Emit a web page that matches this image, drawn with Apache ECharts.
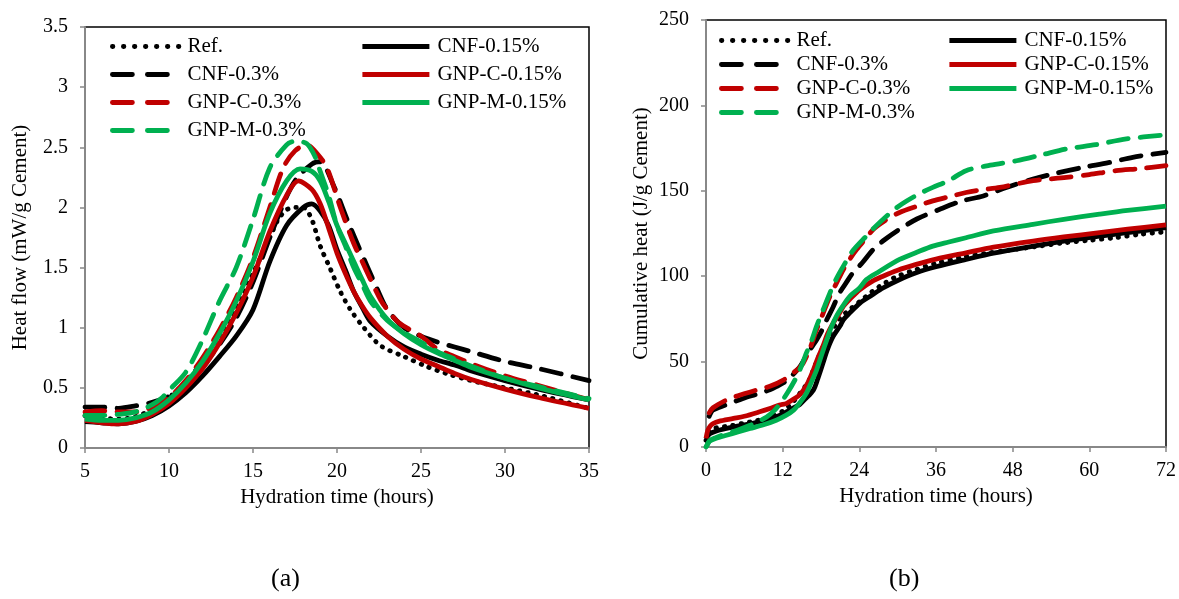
<!DOCTYPE html>
<html>
<head>
<meta charset="utf-8">
<script src="https://cdn.jsdelivr.net/npm/echarts@6/dist/echarts.min.js"></script>
<style>
html,body{margin:0;padding:0;background:#fff;}
#c{width:1179px;height:599px;}
</style>
</head>
<body>
<div id="c"></div>
<script>
// ---------- (a) Heat flow (mW/g Cement) vs hydration time (hours) ----------
const hfRef = [[5,0.27],[6,0.25],[7,0.24],[8,0.26],[9,0.32],[10,0.42],[11,0.55],[12,0.72],[13,0.93],[14,1.16],[15,1.45],[16,1.75],[16.5,1.9],[17,1.98],[17.5,2.0],[18,2.0],[18.5,1.9],[19,1.68],[19.6,1.49],[20.2,1.3],[20.8,1.15],[21.6,1.0],[22.6,0.85],[24,0.76],[25.3,0.68],[26.5,0.62],[28,0.56],[30,0.5],[32,0.44],[35,0.33]];
const hfCNF015 = [[5,0.22],[6,0.21],[7,0.2],[8,0.22],[9,0.27],[10,0.35],[11,0.46],[12,0.6],[13,0.76],[14,0.93],[15,1.15],[16,1.55],[17,1.85],[18,2.0],[18.5,2.03],[19,1.97],[19.5,1.85],[20,1.65],[20.5,1.48],[21,1.3],[21.5,1.17],[22,1.05],[23,0.93],[24,0.84],[25,0.78],[26,0.73],[27,0.69],[28,0.64],[30,0.56],[32,0.49],[35,0.4]];
const hfCNF03 = [[5,0.34],[6,0.34],[7,0.33],[8,0.35],[9,0.38],[10,0.43],[11,0.53],[12,0.68],[13,0.86],[14,1.08],[15,1.38],[16,1.75],[17,2.09],[17.6,2.24],[18.5,2.36],[19,2.38],[19.8,2.18],[20.6,1.9],[21.2,1.7],[21.8,1.51],[22.4,1.32],[23,1.15],[24,1.0],[25,0.93],[26,0.88],[27,0.84],[28,0.8],[30,0.72],[32,0.66],[35,0.56]];
const hfGNPC015 = [[5,0.23],[6,0.21],[7,0.2],[8,0.22],[9,0.28],[10,0.37],[11,0.5],[12,0.66],[13,0.87],[14,1.12],[15,1.42],[16,1.8],[17,2.1],[17.7,2.22],[18.5,2.15],[19,2.03],[19.5,1.83],[20,1.62],[20.5,1.45],[21,1.3],[21.5,1.18],[22,1.08],[23,0.93],[24,0.82],[25,0.74],[26,0.68],[27,0.62],[28,0.57],[30,0.49],[32,0.42],[35,0.33]];
const hfGNPC03 = [[5,0.3],[6,0.31],[7,0.3],[8,0.3],[9,0.34],[10,0.42],[11,0.56],[12,0.75],[13,0.98],[14,1.25],[15,1.58],[16,2.0],[16.8,2.33],[17.5,2.47],[18.2,2.52],[18.8,2.45],[19.4,2.33],[20.2,2.0],[21,1.7],[21.5,1.55],[22,1.4],[22.6,1.23],[23,1.15],[23.7,1.04],[25,0.93],[26,0.82],[27,0.76],[28,0.7],[30,0.6],[32,0.52],[35,0.4]];
const hfGNPM015 = [[5,0.24],[6,0.23],[7,0.23],[8,0.25],[9,0.3],[10,0.4],[11,0.54],[12,0.72],[13,0.95],[14,1.22],[15,1.55],[16,1.95],[17,2.22],[17.8,2.32],[18.5,2.3],[19,2.22],[19.5,2.05],[20,1.85],[20.5,1.7],[21,1.55],[21.5,1.4],[22,1.26],[23,1.07],[24,0.95],[25,0.86],[26,0.79],[27,0.73],[28,0.67],[30,0.58],[32,0.5],[35,0.4]];
const hfGNPM03 = [[5,0.27],[6,0.27],[7,0.28],[8,0.3],[9,0.36],[9.6,0.42],[10,0.48],[11,0.63],[12,0.9],[13,1.22],[14,1.5],[15,1.9],[16,2.33],[17,2.52],[17.5,2.55],[18.2,2.53],[18.7,2.42],[19,2.3],[19.5,2.1],[20,1.85],[20.5,1.68],[21,1.5],[21.5,1.36],[22,1.22],[23,1.06],[24,0.96],[25,0.88],[26,0.8],[27,0.74],[28,0.68],[30,0.58],[32,0.51],[35,0.41]];

// ---------- (b) Cumulative heat (J/g Cement) vs hydration time (hours) ----------
const chRef = [[0,4],[0.5,9],[1,10.5],[2,11.5],[4,12.5],[6,14],[8,15.5],[10,17.5],[12,21],[13,24],[14,28],[15,33],[16,38],[17,47],[18,56],[19,64],[20,70],[21,75.5],[22,79],[24,85],[26,91],[28,96],[30,100],[33,104],[36,107.5],[40,111],[44,113.5],[48,115.5],[52,117.5],[56,119.5],[60,121],[64,122.5],[68,124.5],[72,126]];
const chCNF015 = [[0,5],[0.5,7.5],[1,8.5],[2,9.8],[4,11.5],[6,13],[8,14.5],[10,16.5],[11.6,18.6],[13,21.5],[14,23.5],[14.7,25],[15.5,28],[16.8,33.3],[17.5,40],[18.3,49],[19,57],[19.9,64.7],[21,71],[21.5,74.5],[22.5,78.5],[24.1,84.3],[26,89],[27.7,93.1],[30,97.5],[32.9,102],[36,105.5],[40.7,109.8],[45,113.5],[51.2,117.6],[56,120.5],[61.6,123.5],[66,125.5],[72,128.4]];
const chCNF03 = [[0.5,18],[1.1,21.6],[3,24.5],[5.8,28.4],[8,31],[10,33.5],[11,35.3],[12.5,38.5],[13.5,42],[14.7,47],[15.5,52],[16.3,57],[17.3,62.7],[18.1,68],[18.9,74.5],[19.9,82],[20.9,90.2],[22,96.5],[23,102],[24.5,108],[26.2,115.7],[28,121.5],[30.3,127.5],[33,133.5],[36.6,139.2],[40,144],[43.4,147],[47,152],[51.2,156.9],[55,160.5],[59,163.7],[63,166.5],[66.8,169.6],[72,172.5]];
const chGNPC015 = [[0,5],[0.3,10],[0.7,12.5],[1.1,13.7],[2,15],[4.3,16.7],[6,18],[8.4,20.6],[10,22.5],[11.5,24.5],[12.6,25.5],[13.5,27.5],[14.5,30],[15.2,33],[16,38],[16.8,45],[17.5,52],[18.3,59],[19,66],[19.9,72.5],[21,79],[21.5,82.4],[22.5,86.5],[24.1,92.2],[26,97],[27.7,100],[30,103.5],[32.9,106.9],[36,110],[40.7,113.7],[45,117],[51.2,120.6],[56,123],[61.6,125.5],[66,127.5],[72,130]];
const chGNPC03 = [[0.5,20],[1.1,23],[3.2,27.5],[5,30],[7.9,33.3],[10,35.5],[12.1,39.2],[13.5,43],[14.5,46],[15.2,49],[16.3,58],[17.3,68.6],[18.3,78],[19.4,88.2],[20.5,96.5],[21.5,103.9],[22.5,110],[23.6,115.7],[25,122],[26.2,127.5],[28,132.5],[30.3,137.3],[33,141],[35.5,144.1],[38,146.5],[40.7,149],[43,150.5],[46,152],[51.2,155.9],[56.4,157.8],[60,159.5],[64.2,161.8],[68,163],[72,164.7]];
const chGNPM015 = [[0,0],[0.3,2],[0.6,3.5],[1.5,5],[3.2,6.9],[5,8.8],[6.9,10.8],[9,13],[11,15.7],[12.5,18.5],[13.7,21.6],[14.7,26],[15.7,31.4],[16.5,38],[17.3,45],[18.1,54],[18.9,62.7],[19.6,70],[20.4,76.5],[21.4,82.5],[22.5,88.2],[24,93],[25.1,98],[27,102.5],[30.3,109.8],[33,114],[35.5,117.6],[38,120],[40.7,122.5],[45,126.5],[51.2,130.4],[56,133.3],[61.6,136.3],[66,138.5],[72,141]];
const chGNPM03 = [[0,0],[0.3,2],[0.6,3.9],[1.5,5.5],[3.2,7.8],[5,10],[6.9,12.7],[8.2,15],[9.5,17.6],[10.6,21],[11.6,25.5],[12.8,32],[14.2,41.2],[15,48],[15.7,54.9],[16.5,62],[17.3,70.6],[18.3,80],[19.4,90.2],[20.4,98.5],[21.5,105.9],[23,115],[25.1,123.5],[26.5,129],[28.2,135],[29.8,140],[31.4,144],[33.5,148.5],[35.5,152],[38,156],[40.7,161.8],[44.5,165],[48.6,167.6],[52.5,171],[56.4,174.5],[61,177],[65.8,180.4],[72,182.7]];

const seriesNames = ['Ref.','CNF-0.15%','CNF-0.3%','GNP-C-0.15%','GNP-C-0.3%','GNP-M-0.15%','GNP-M-0.3%'];
const legendCol1 = ['Ref.','CNF-0.3%','GNP-C-0.3%','GNP-M-0.3%'];
const legendCol2 = ['CNF-0.15%','GNP-C-0.15%','GNP-M-0.15%'];
const xTicksA = {min:5, max:35, interval:5};
const yTicksA = {min:0, max:3.5, interval:0.5};
const xTicksB = {min:0, max:72, interval:12};
const yTicksB = {min:0, max:250, interval:50};
const panelLabels = ['(a)','(b)'];

const FONT = '"Liberation Serif","Times New Roman",serif';
const BLACK = '#000000', RED = '#c00000', GREEN = '#00b050';
const DASH = [20, 12];
const DOT = [0.5, 8];
const LEG_DASH = [20, 15];
const LEG_DOT = [0.5, 10.5];
const LW = 4.8;
const styles = {
  'Ref.':        {color: BLACK, type: DOT, legType: LEG_DOT, cap: 'round'},
  'CNF-0.15%':   {color: BLACK, type: 'solid', legType: 'solid', cap: 'butt'},
  'CNF-0.3%':    {color: BLACK, type: DASH, legType: LEG_DASH, cap: 'round'},
  'GNP-C-0.15%': {color: RED,   type: 'solid', legType: 'solid', cap: 'butt'},
  'GNP-C-0.3%':  {color: RED,   type: DASH, legType: LEG_DASH, cap: 'round'},
  'GNP-M-0.15%': {color: GREEN, type: 'solid', legType: 'solid', cap: 'butt'},
  'GNP-M-0.3%':  {color: GREEN, type: DASH, legType: LEG_DASH, cap: 'round'}
};
const dataA = [hfRef, hfCNF015, hfCNF03, hfGNPC015, hfGNPC03, hfGNPM015, hfGNPM03];
const dataB = [chRef, chCNF015, chCNF03, chGNPC015, chGNPC03, chGNPM015, chGNPM03];

function mkSeries(data, idx) {
  return seriesNames.map((n, i) => ({
    name: n, type: 'line', xAxisIndex: idx, yAxisIndex: idx,
    data: data[i], showSymbol: false, symbol: 'circle', symbolSize: 0,
    smooth: 0.3,
    lineStyle: {width: LW, color: styles[n].color, type: styles[n].type, cap: styles[n].cap, join: 'round'},
    itemStyle: {color: styles[n].color},
    emphasis: {disabled: true}, animation: false
  }));
}

const axisCommon = {
  type: 'value',
  axisLine: {show: true, onZero: false, lineStyle: {color: '#888888', width: 2}},
  axisTick: {show: true, inside: false, length: 5, lineStyle: {color: '#888888', width: 1.5}},
  splitLine: {show: false},
  axisLabel: {color: '#000', fontFamily: FONT, fontSize: 20},
  nameTextStyle: {color: '#000', fontFamily: FONT, fontSize: 21},
  nameLocation: 'middle'
};

function xAxis(idx, t) {
  return Object.assign({}, axisCommon, {gridIndex: idx, min: t.min, max: t.max, interval: t.interval,
    name: 'Hydration time (hours)', nameGap: 36,
    axisLabel: Object.assign({}, axisCommon.axisLabel, {margin: 14})});
}
function yAxis(idx, t, name) {
  return Object.assign({}, axisCommon, {gridIndex: idx, min: t.min, max: t.max, interval: t.interval,
    name: name, nameGap: 54,
    axisLabel: Object.assign({}, axisCommon.axisLabel, {margin: 17})});
}

function legend(names, left, top, gap) {
  return {
    data: names.map(n => ({name: n, lineStyle: {type: styles[n].legType, width: LW, cap: styles[n].cap}})),
    orient: 'vertical', left: left, top: top, padding: 0,
    itemWidth: 67, itemHeight: 14, itemGap: gap,
    lineStyle: {width: LW},
    itemStyle: {color: 'rgba(0,0,0,0)', borderWidth: 0, opacity: 0},
    textStyle: {color: '#000', fontFamily: FONT, fontSize: 21, padding: [0,0,0,3]},
    selectedMode: false
  };
}

const chart = echarts.init(document.getElementById('c'), null, {renderer: 'canvas'});
chart.setOption({
  backgroundColor: '#ffffff',
  animation: false,
  grid: [
    {left: 85, top: 27, width: 504, height: 421, show: true, borderColor: '#000', borderWidth: 1.5, backgroundColor: 'transparent'},
    {left: 706, top: 20, width: 461, height: 427, show: true, borderColor: '#000', borderWidth: 1.5, backgroundColor: 'transparent'}
  ],
  xAxis: [xAxis(0, xTicksA), xAxis(1, xTicksB)],
  yAxis: [yAxis(0, yTicksA, 'Heat flow (mW/g Cement)'), yAxis(1, yTicksB, 'Cumulative heat (J/g Cement)')],
  legend: [
    legend(legendCol1, 110, 36, 7),
    legend(legendCol2, 360, 36, 7),
    legend(legendCol1, 719, 30, 3),
    legend(legendCol2, 947, 30, 3)
  ],
  series: mkSeries(dataA, 0).concat(mkSeries(dataB, 1)),
  graphic: [
    {type: 'text', left: 287 - 16, top: 566, style: {text: panelLabels[0], font: '26px ' + FONT, fill: '#000'}},
    {type: 'text', left: 905 - 16, top: 566, style: {text: panelLabels[1], font: '26px ' + FONT, fill: '#000'}}
  ]
});
</script>
</body>
</html>
